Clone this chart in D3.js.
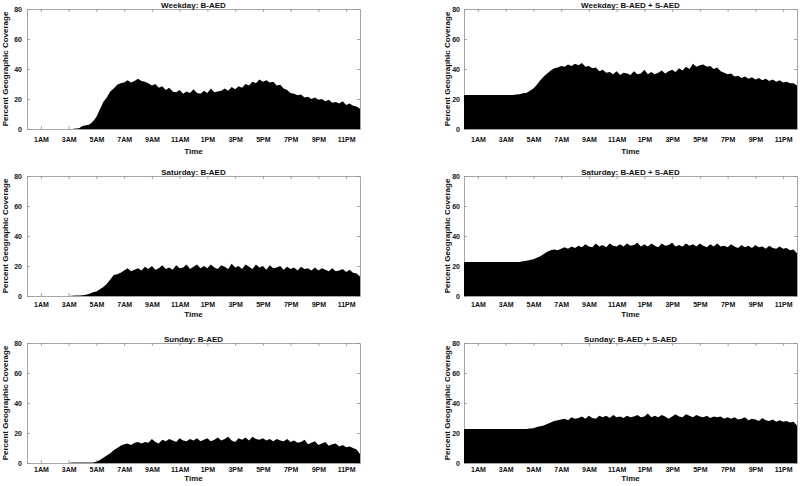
<!DOCTYPE html>
<html>
<head>
<meta charset="utf-8">
<script src="https://cdn.jsdelivr.net/npm/d3@7"></script>
<style>
  html, body { margin: 0; padding: 0; background: #fff; }
  svg { display: block; font-family: "Liberation Sans", Helvetica, Arial, sans-serif; }
</style>
</head>
<body>
<svg id="chart" width="800" height="486"></svg>
<script>
// ---- Data (15-minute steps from 0h to 24h) ----
const stepHours = 0.25;
const xTickValues = [1, 3, 5, 7, 9, 11, 13, 15, 17, 19, 21, 23];
const xTickLabels = ["1AM", "3AM", "5AM", "7AM", "9AM", "11AM", "1PM", "3PM", "5PM", "7PM", "9PM", "11PM"];
const yTickValues = [0, 20, 40, 60, 80];
const panelTitles = ["Weekday: B-AED", "Weekday: B-AED + S-AED",
                     "Saturday: B-AED", "Saturday: B-AED + S-AED",
                     "Sunday: B-AED", "Sunday: B-AED + S-AED"];

const weekdayB = [0,0,0,0,0,0,0,0,0,0,0,0,0,0,
  0.3,0.5,2,2.5,3,5,8,13,18,21,25,27,29.5,30.5,
  31,32.5,31,32,33.5,32,31.5,30.5,29,30,27.5,28.5,
  26,27.5,25,24.5,26,23.5,25,24,26.5,24,23.5,25.5,24,27,24.5,25,
  25.5,27,25.5,28,26.5,28.5,27.5,30,29,31.5,30.5,33,31.5,32.5,31,31.5,
  29,29.5,27,26,24,23.5,22.5,23,21,21.5,20,21,19.5,20,18.5,19.5,
  17.5,18,17,18.5,16,17,15.5,15,13.5];

const weekdayBS = [22.7,22.7,22.7,22.7,22.7,22.7,22.7,22.7,22.7,22.7,22.7,22.7,22.7,22.7,22.7,
  23,23.2,23.8,24,25.5,27,29.5,32.5,35,37,39,40.5,41,
  42,41.5,43,42,43.5,42.5,44,41.5,42,40.5,41,38.5,
  39.5,37.5,38,36.5,38.5,36,37.5,37,36,38.5,36.5,37,
  39.5,36.5,38,36.5,37.5,39,37,38.5,39.5,38,40.5,39,
  41.5,40,43.5,41.5,42.5,43,41.5,42,40,41,38.5,37.5,
  36.5,37,35,35.5,34,35,33.5,34.5,33,34,32.5,33.5,
  32,33,31.5,32.5,31,31.5,30.5,30.5,29];

const saturdayB = [0,0,0,0,0,0,0,0,0,0,0,0,0,
  0.2,0.3,0.3,0.5,0.8,1.5,2.5,3,4.5,6,8,11,14,14.5,15.5,
  17,18.5,16.5,17.5,18.5,17,19.5,18,20,17.5,18.5,20.5,
  18,19,17.5,20.5,18.5,19,21,18,19.5,21,18.5,20,
  18.5,21,19,18,20.5,19.5,18,21.5,19,20,18,21,
  19.5,18,21,19,20,17.5,20.5,18.5,19,20,17.5,19.5,
  18,19,17,19.5,18,18.5,17,19,17,18.5,17.5,16.5,
  18.5,16.5,17,18,16,17.5,15.5,15,13];

const saturdayBS = [22.7,22.7,22.7,22.7,22.7,22.7,22.7,22.7,22.7,22.7,22.7,22.7,22.7,22.7,22.7,22.7,22.7,
  23.2,23.5,24,24.5,25.5,26.5,28,29.5,30.5,31,30.5,
  31.5,32.5,31.5,33,32,33.5,32.5,34.5,33,32.5,35,33,
  34,32.5,35,33.5,33,34.5,33,35,33.5,34,35.5,33,
  34.5,33,35,33.5,32.5,35,33.5,34,35.5,33,34,33,
  35,33.5,34.5,33,35,33.5,32.5,34.5,33,35,33,33.5,
  32.5,34.5,33,32,34,32.5,33.5,32,34,32.5,33,31.5,
  33.5,32,31.5,33,31.5,32,30.5,31,28.5];

const sundayB = [0,0,0,0,0,0,0,0,0,0,0,0,0,
  0.3,0.3,0.3,0.3,0.3,0.3,0.3,0.8,2,3.5,5,6.5,8.5,10,11.5,
  12.5,13,12,13.5,14,13,14,13.5,16,14,13,15.5,
  14.5,16,15,14,16.5,15,14.5,16,15,16.5,14.5,15.5,
  16.5,14.5,15.5,17,15,16,17.5,15,14,16.5,15.5,17,
  15,17.5,16,15.5,16.5,15,16,14.5,16,15,14.5,16,
  14,15,13.5,14,15.5,12.5,13.5,14.5,12,13,14,11.5,
  12.5,13,11,12,10.5,11,10,9,6];

const sundayBS = [22.7,22.7,22.7,22.7,22.7,22.7,22.7,22.7,22.7,22.7,22.7,22.7,22.7,22.7,22.7,22.7,22.7,22.7,22.7,
  23,23.2,24,24.5,25,26,27,28,28.5,
  29,29.5,28.5,30.5,29.5,30,31,29.5,31.5,30,29.5,31.5,
  30.5,31.5,30,32,30.5,31,30,31.5,30.5,31,32,30.5,
  31,33,30.5,31.5,30.5,32,31,29.5,31,32.5,31,30.5,
  32.5,31.5,30.5,32,31,30.5,31.5,30,31,30.5,31,29.5,
  30.5,29.5,30.5,29,29.5,30.5,28.5,29.5,29,28,30,28.5,
  28,29,27.5,28.5,27.5,28,27,27.5,25];

const panelSeries = [weekdayB, weekdayBS, saturdayB, saturdayBS, sundayB, sundayBS];

// ---- Layout ----
const svg = d3.select("#chart");
const colLeft = [27, 464];
const rowTop = [9, 176, 343];
const plotW = 333, plotH = 120;
const yLabelX = [5, 447.5];
const yTickPad = [5, 4];
const xTickPad = [7.8, 6.5, 4.2];
const xLabelOff = [24.6, 21, 18.2];
const axisColor = "#8f8f8f";
const textColor = "#111";

panelSeries.forEach((vals, idx) => {
  const col = idx % 2, row = Math.floor(idx / 2);
  const left = colLeft[col], top = rowTop[row];
  const g = svg.append("g").attr("transform", `translate(${left},${top})`);

  const x = d3.scaleLinear().domain([0, 24]).range([0, plotW]);
  const y = d3.scaleLinear().domain([0, 80]).range([plotH, 0]);

  const data = vals.map((v, i) => ({ t: i * stepHours, v }));

  const styleAxis = sel => {
    sel.select(".domain").attr("stroke", axisColor).attr("stroke-width", 0.8);
    sel.selectAll(".tick line").attr("stroke", axisColor).attr("stroke-width", 0.8);
    sel.selectAll("text").attr("fill", textColor).attr("font-weight", "bold").attr("font-size", 7);
  };

  g.append("g").attr("transform", `translate(0,${plotH})`)
    .call(d3.axisBottom(x).tickValues(xTickValues)
      .tickFormat((d, i) => xTickLabels[i]).tickSizeInner(-3).tickSizeOuter(0).tickPadding(xTickPad[row]))
    .call(styleAxis);
  g.append("g")
    .call(d3.axisTop(x).tickValues(xTickValues).tickFormat("").tickSizeInner(-3).tickSizeOuter(0))
    .call(styleAxis);
  g.append("g")
    .call(d3.axisLeft(y).tickValues(yTickValues).tickSizeInner(-3).tickSizeOuter(0).tickPadding(yTickPad[col]))
    .call(styleAxis);
  g.append("g").attr("transform", `translate(${plotW},0)`)
    .call(d3.axisRight(y).tickValues(yTickValues).tickFormat("").tickSizeInner(-3).tickSizeOuter(0))
    .call(styleAxis);

  const area = d3.area()
    .x(d => x(d.t))
    .y0(y(0))
    .y1(d => y(d.v))
    .curve(d3.curveLinear);
  g.append("path").datum(data).attr("d", area).attr("fill", "#000").attr("stroke", "none");

  g.append("text").attr("x", plotW / 2).attr("y", -1.5)
    .attr("text-anchor", "middle").attr("font-size", 8).attr("font-weight", "bold")
    .attr("fill", textColor).text(panelTitles[idx]);

  g.append("text").attr("x", plotW / 2).attr("y", plotH + xLabelOff[row])
    .attr("text-anchor", "middle").attr("font-size", 8).attr("font-weight", "bold")
    .attr("fill", textColor).text("Time");

  svg.append("text")
    .attr("transform", `translate(${yLabelX[col] + 2.9},${top + plotH / 2}) rotate(-90)`)
    .attr("text-anchor", "middle").attr("font-size", 8).attr("font-weight", "bold")
    .attr("fill", textColor).text("Percent Geographic Coverage");
});
</script>
</body>
</html>
